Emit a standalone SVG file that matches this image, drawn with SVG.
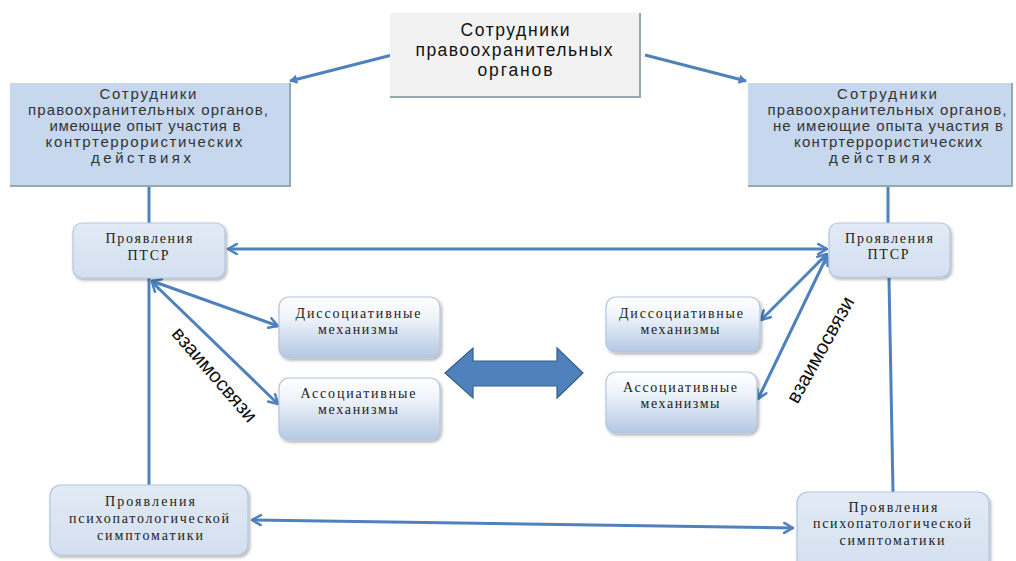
<svg xmlns="http://www.w3.org/2000/svg" width="1016" height="561" viewBox="0 0 1016 561">
<style>
.sq{fill:#c6d7ee;}
.edge{stroke:#93aab0;stroke-width:2;fill:none;}
.t-top{font-family:"Liberation Sans",Arial,sans-serif;font-size:17.5px;fill:#111;text-anchor:middle;}
.t-side{font-family:"Liberation Sans",Arial,sans-serif;font-size:15px;fill:#333;text-anchor:middle;}
.t-ser{font-family:"Liberation Serif","Times New Roman",serif;font-size:14px;fill:#222;text-anchor:middle;}
.t-rel{font-family:"Liberation Sans",Arial,sans-serif;font-size:20px;fill:#111;text-anchor:middle;}
.ptsr{fill:url(#gPtsr);stroke:#b3c6df;stroke-width:1.2;}
.mech{fill:url(#gMech);stroke:#b3c6df;stroke-width:1.2;}
.conn{stroke:#4f81bd;stroke-width:3;fill:none;}
</style>
<defs>
<linearGradient id="gPtsr" x1="0" y1="0" x2="0" y2="1">
<stop offset="0" stop-color="#e2eaf5"/><stop offset="1" stop-color="#d3e0f0"/>
</linearGradient>
<linearGradient id="gMech" x1="0" y1="0" x2="0" y2="1">
<stop offset="0" stop-color="#ffffff"/><stop offset="0.35" stop-color="#eef3fa"/><stop offset="1" stop-color="#b3c8e3"/>
</linearGradient>
<filter id="sh" x="-10%" y="-10%" width="130%" height="140%">
<feDropShadow dx="1.5" dy="2" stdDeviation="1.5" flood-color="#000" flood-opacity="0.3"/>
</filter>
<marker id="ah" viewBox="0 0 10 10" refX="8" refY="5" markerWidth="4.2" markerHeight="4.2" orient="auto-start-reverse" markerUnits="strokeWidth">
<path d="M1,1 L8,5 L1,9" fill="none" stroke="#4f81bd" stroke-width="2" stroke-linecap="round" stroke-linejoin="round"/>
</marker>
<marker id="ahs" viewBox="0 0 10 10" refX="8" refY="5" markerWidth="3.2" markerHeight="3.2" orient="auto" markerUnits="strokeWidth">
<path d="M1,1 L8,5 L1,9 Z" fill="#4f81bd" stroke="#4f81bd" stroke-width="1"/>
</marker>
</defs>
<rect width="1016" height="561" fill="#ffffff"/>

<g id="connectors">
<line class="conn" x1="392" y1="55" x2="290" y2="81" marker-end="url(#ahs)"/>
<line class="conn" x1="645" y1="55" x2="746" y2="81" marker-end="url(#ahs)"/>
<line class="conn" x1="149" y1="186" x2="149" y2="223"/>
<line class="conn" x1="888" y1="186" x2="888" y2="223"/>
<line class="conn" x1="228" y1="249" x2="827" y2="249" marker-start="url(#ah)" marker-end="url(#ah)"/>
<line class="conn" x1="149" y1="278" x2="149" y2="485"/>
<line class="conn" x1="889" y1="278" x2="893" y2="492"/>
<line class="conn" x1="152" y1="281" x2="278" y2="326" marker-start="url(#ah)" marker-end="url(#ah)"/>
<line class="conn" x1="152" y1="282" x2="278" y2="404" marker-start="url(#ah)" marker-end="url(#ah)"/>
<line class="conn" x1="827" y1="254" x2="761" y2="320" marker-start="url(#ah)" marker-end="url(#ah)"/>
<line class="conn" x1="827" y1="256" x2="758" y2="399" marker-start="url(#ah)" marker-end="url(#ah)"/>
<line class="conn" x1="252" y1="520" x2="793" y2="528" marker-start="url(#ah)" marker-end="url(#ah)"/>
<path d="M445,373 L473,348 L473,361 L557,361 L557,348 L583,373 L557,398 L557,386 L473,386 L473,398 Z" fill="#4f81bd" stroke="#385d8a" stroke-width="1.2"/>
<text class="t-rel" transform="translate(214,375) rotate(49)" y="6">взаимосвязи</text>
<text class="t-rel" transform="translate(821,350) rotate(-61)" y="6">взаимосвязи</text>
</g>

<g id="top">
<rect x="390" y="13" width="250" height="84" fill="#f2f2f2"/>
<path class="edge" d="M640,13 L640,97 L390,97"/>
<text class="t-top" x="515" y="36" textLength="109" lengthAdjust="spacing">Сотрудники</text>
<text class="t-top" x="514" y="56" textLength="197" lengthAdjust="spacing">правоохранительных</text>
<text class="t-top" x="515" y="76" textLength="75" lengthAdjust="spacing">органов</text>
</g>

<g id="left-exp">
<rect class="sq" x="10" y="83" width="280" height="103"/>
<path class="edge" d="M290,83 L290,186 L10,186"/>
<text class="t-side" x="148" y="99" textLength="97" lengthAdjust="spacing">Сотрудники</text>
<text class="t-side" x="148" y="115" textLength="240" lengthAdjust="spacing">правоохранительных органов,</text>
<text class="t-side" x="145" y="131" textLength="191" lengthAdjust="spacing">имеющие опыт участия в</text>
<text class="t-side" x="144" y="147" textLength="197" lengthAdjust="spacing">контртеррористических</text>
<text class="t-side" x="141" y="163" textLength="100" lengthAdjust="spacing">действиях</text>
</g>

<g id="right-noexp">
<rect class="sq" x="748" y="83" width="264" height="103"/>
<path class="edge" d="M1012,83 L1012,186 L748,186"/>
<text class="t-side" x="887" y="99" textLength="100" lengthAdjust="spacing">Сотрудники</text>
<text class="t-side" x="887" y="115" textLength="239" lengthAdjust="spacing">правоохранительных органов,</text>
<text class="t-side" x="888" y="131" textLength="230" lengthAdjust="spacing">не имеющие опыта участия в</text>
<text class="t-side" x="888" y="147" textLength="188" lengthAdjust="spacing">контртеррористических</text>
<text class="t-side" x="880" y="163" textLength="102" lengthAdjust="spacing">действиях</text>
</g>

<g id="ptsr-left">
<rect class="ptsr" x="73" y="223" width="152" height="55" rx="9" filter="url(#sh)"/>
<text class="t-ser" x="149" y="243" textLength="87" lengthAdjust="spacing">Проявления</text>
<text class="t-ser" x="148" y="260" textLength="41" lengthAdjust="spacing">ПТСР</text>
</g>

<g id="ptsr-right">
<rect class="ptsr" x="829" y="223" width="121" height="54" rx="9" filter="url(#sh)"/>
<text class="t-ser" x="889" y="243" textLength="88" lengthAdjust="spacing">Проявления</text>
<text class="t-ser" x="888" y="259" textLength="41" lengthAdjust="spacing">ПТСР</text>
</g>

<g id="dis-left">
<rect class="mech" x="279" y="297" width="161" height="61" rx="10" filter="url(#sh)"/>
<text class="t-ser" x="358" y="318" textLength="125" lengthAdjust="spacing">Диссоциативные</text>
<text class="t-ser" x="358" y="334" textLength="80" lengthAdjust="spacing">механизмы</text>
</g>

<g id="as-left">
<rect class="mech" x="279" y="378" width="161" height="62" rx="10" filter="url(#sh)"/>
<text class="t-ser" x="358" y="398" textLength="115" lengthAdjust="spacing">Ассоциативные</text>
<text class="t-ser" x="358" y="414" textLength="80" lengthAdjust="spacing">механизмы</text>
</g>

<g id="dis-right">
<rect class="mech" x="606" y="297" width="154" height="55" rx="10" filter="url(#sh)"/>
<text class="t-ser" x="681" y="318" textLength="124" lengthAdjust="spacing">Диссоциативные</text>
<text class="t-ser" x="680" y="334" textLength="79" lengthAdjust="spacing">механизмы</text>
</g>

<g id="as-right">
<rect class="mech" x="606" y="372" width="151" height="61" rx="10" filter="url(#sh)"/>
<text class="t-ser" x="680" y="392" textLength="114" lengthAdjust="spacing">Ассоциативные</text>
<text class="t-ser" x="680" y="408" textLength="79" lengthAdjust="spacing">механизмы</text>
</g>

<g id="psy-left">
<rect class="ptsr" x="50" y="485" width="198" height="70" rx="11" filter="url(#sh)"/>
<text class="t-ser" x="150" y="506" textLength="90" lengthAdjust="spacing">Проявления</text>
<text class="t-ser" x="149" y="523" textLength="160" lengthAdjust="spacing">психопатологической</text>
<text class="t-ser" x="150" y="540" textLength="106" lengthAdjust="spacing">симптоматики</text>
</g>

<g id="psy-right">
<rect class="ptsr" x="797" y="492" width="192" height="80" rx="11" filter="url(#sh)"/>
<text class="t-ser" x="893" y="512" textLength="89" lengthAdjust="spacing">Проявления</text>
<text class="t-ser" x="892" y="528" textLength="158" lengthAdjust="spacing">психопатологической</text>
<text class="t-ser" x="892" y="545" textLength="105" lengthAdjust="spacing">симптоматики</text>
</g>
</svg>
